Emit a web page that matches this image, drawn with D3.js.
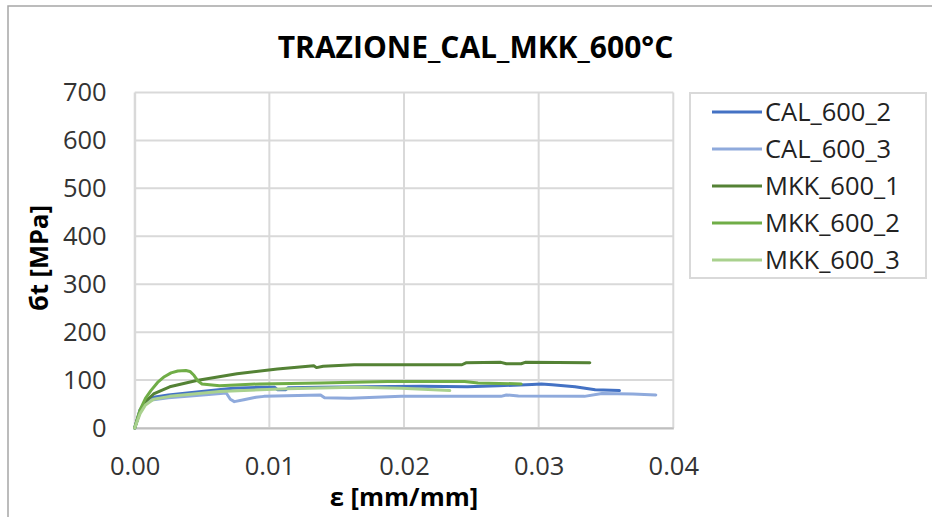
<!DOCTYPE html>
<html lang="it">
<head>
<meta charset="UTF-8">
<title>TRAZIONE_CAL_MKK_600°C</title>
<script src="https://cdnjs.cloudflare.com/ajax/libs/d3/7.8.5/d3.min.js"></script>
<style>
    html, body { margin: 0; padding: 0; background: #fff; }
    svg { display: block; font-family: "Open Sans", sans-serif; }
</style>
</head>
<body>
<svg width="932" height="517"></svg>
<script>
    // series: [strain, stress]
    const seriesNames = ["CAL_600_2", "CAL_600_3", "MKK_600_1", "MKK_600_2", "MKK_600_3"];
    const seriesColors = ["#4472c4", "#8faadc", "#548235", "#70ad47", "#a9d18e"];

    const cal600_2 = [[0,0],[0.0004,38],[0.0008,55],[0.0014,64],[0.0025,69],[0.0039,73],[0.0055,78],
        [0.0073,83],[0.0093,85],[0.0104,85],[0.0106,80],[0.0112,80],[0.0114,84],[0.0138,85],[0.017,86],
        [0.0213,87],[0.0247,86],[0.027,88],[0.0295,91],[0.0302,92],[0.031,90],[0.0327,86],[0.0342,80],[0.036,78]];
    const cal600_3 = [[0,0],[0.0004,35],[0.0008,50],[0.0011,58],[0.0025,63],[0.0039,66],[0.0055,70],
        [0.0068,73],[0.0071,60],[0.0074,55],[0.0081,59],[0.009,64],[0.0096,66],[0.0138,69],[0.0141,63],
        [0.016,62],[0.0198,66],[0.0272,66],[0.0276,69],[0.0285,67],[0.0334,66],[0.0347,72],[0.037,71],[0.0387,69]];
    const mkk600_1 = [[0,0],[0.0004,35],[0.0008,55],[0.0014,71],[0.0026,86],[0.0046,99],[0.0076,113],
        [0.0106,123],[0.0133,130],[0.0135,126],[0.014,129],[0.0163,132],[0.0198,132],[0.0243,132],
        [0.0246,136],[0.0272,137],[0.0276,134],[0.0287,134],[0.029,137],[0.0338,136]];
    const mkk600_2 = [[0,0],[0.0004,38],[0.0008,62],[0.0012,78],[0.0017,95],[0.0022,107],[0.0027,115],
        [0.0032,119],[0.0038,120],[0.0041,118],[0.0044,110],[0.0047,98],[0.005,92],[0.0063,88],[0.0093,92],
        [0.0138,94],[0.0188,97],[0.0213,97],[0.0245,97],[0.0255,94],[0.0287,92]];
    const mkk600_3 = [[0,0],[0.0004,30],[0.0008,48],[0.0014,60],[0.0026,66],[0.0063,76],[0.0113,82],
        [0.0163,85],[0.0198,83],[0.0234,78]];

    const xTicks = [0, 0.01, 0.02, 0.03, 0.04];
    const yTicks = [0, 100, 200, 300, 400, 500, 600, 700];

    const allSeries = [cal600_2, cal600_3, mkk600_1, mkk600_2, mkk600_3];

    const svg = d3.select("svg");
    const x = d3.scaleLinear().domain([0, 0.04]).range([134.7, 673.3]);
    const y = d3.scaleLinear().domain([0, 700]).range([428, 92.5]);

    // outer chart frame
    svg.append("rect")
        .attr("x", 8).attr("y", 6).attr("width", 940).attr("height", 530)
        .attr("fill", "#fff").attr("stroke", "#a6a6a6").attr("stroke-width", 1.5);

    // gridlines
    svg.append("g").selectAll("line").data(yTicks).join("line")
        .attr("x1", x(0)).attr("x2", x(0.04))
        .attr("y1", d => y(d)).attr("y2", d => y(d))
        .attr("stroke", "#d9d9d9").attr("stroke-width", 2);
    svg.append("g").selectAll("line").data(xTicks).join("line")
        .attr("y1", y(0)).attr("y2", y(700))
        .attr("x1", d => x(d)).attr("x2", d => x(d))
        .attr("stroke", "#d9d9d9").attr("stroke-width", 2);

    // axes
    const xAxis = svg.append("g")
        .attr("transform", `translate(0,${y(0)})`)
        .call(d3.axisBottom(x).tickValues(xTicks).tickFormat(d3.format(".2f")).tickSize(0).tickPadding(29));
    xAxis.select(".domain").attr("stroke", "#bfbfbf").attr("stroke-width", 2);
    const yAxis = svg.append("g")
        .attr("transform", `translate(${x(0)},0)`)
        .call(d3.axisLeft(y).tickValues(yTicks).tickSize(0).tickPadding(28));
    yAxis.select(".domain").attr("stroke", "#d9d9d9").attr("stroke-width", 2);
    svg.selectAll(".tick text").attr("font-family", "Open Sans").attr("font-size", 25.5).attr("fill", "#333");

    // curves
    const line = d3.line().x(d => x(d[0])).y(d => y(d[1]));
    svg.append("g").selectAll("path").data(allSeries).join("path")
        .attr("d", line)
        .attr("fill", "none")
        .attr("stroke", (d, i) => seriesColors[i])
        .attr("stroke-width", 3)
        .attr("stroke-linejoin", "round")
        .attr("stroke-linecap", "round");

    // titles
    svg.append("text")
        .attr("x", 475.5).attr("y", 58.3)
        .attr("text-anchor", "middle")
        .attr("font-size", 30).attr("font-weight", "bold").attr("fill", "#000")
        .text("TRAZIONE_CAL_MKK_600°C");
    svg.append("text")
        .attr("x", 404).attr("y", 506)
        .attr("text-anchor", "middle")
        .attr("font-size", 25.5).attr("font-weight", "bold").attr("fill", "#000")
        .text("ε [mm/mm]");
    svg.append("text")
        .attr("transform", "translate(48,258) rotate(-90)")
        .attr("text-anchor", "middle")
        .attr("font-size", 25.5).attr("font-weight", "bold").attr("fill", "#000")
        .text("бt [MPa]");

    // legend
    const legend = svg.append("g");
    legend.append("rect")
        .attr("x", 690).attr("y", 93).attr("width", 236).attr("height", 185)
        .attr("fill", "#fff").attr("stroke", "#d9d9d9").attr("stroke-width", 2);
    const rows = legend.selectAll("g.row").data(seriesNames).join("g")
        .attr("class", "row")
        .attr("transform", (d, i) => `translate(0,${112 + i * 37})`);
    rows.append("line")
        .attr("x1", 712).attr("x2", 762)
        .attr("stroke", (d, i) => seriesColors[i]).attr("stroke-width", 3);
    rows.append("text")
        .attr("x", 765).attr("dy", "0.36em")
        .attr("font-size", 25.5).attr("fill", "#222")
        .text(d => d);
</script>
</body>
</html>
